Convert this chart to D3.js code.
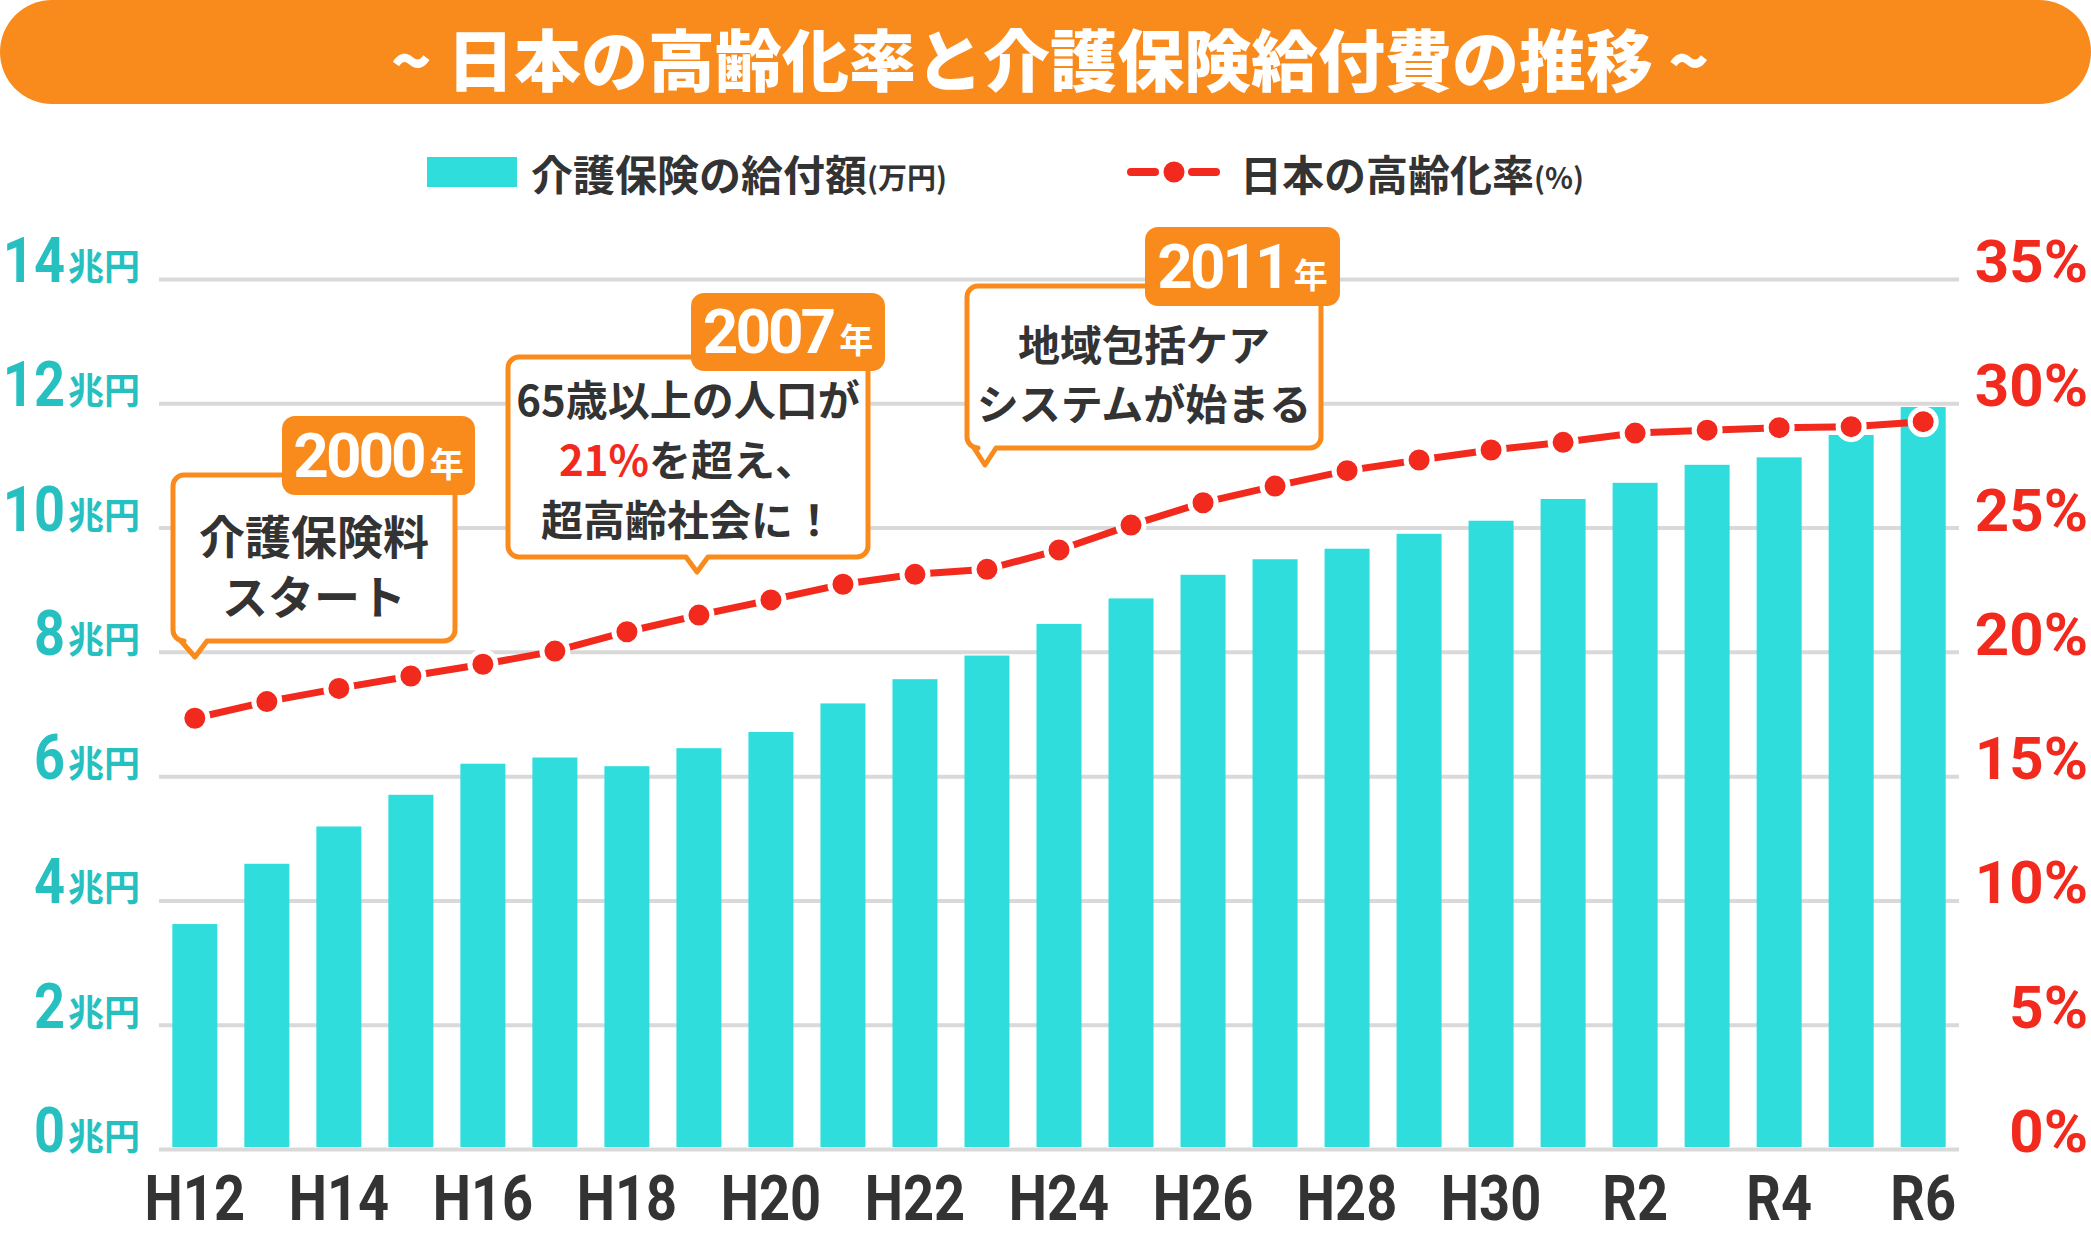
<!DOCTYPE html>
<html><head><meta charset="utf-8">
<script src="https://cdn.jsdelivr.net/npm/d3@7"></script>
<style>
html,body{margin:0;padding:0;background:#fff;}
svg{display:block;}
</style></head>
<body>
<script>
// ---- data ----
const categories = ["H12","H13","H14","H15","H16","H17","H18","H19","H20","H21","H22","H23","H24","H25","H26","H27","H28","H29","H30","R1","R2","R3","R4","R5","R6"];
const benefit = [3.62,4.59,5.19,5.70,6.20,6.30,6.16,6.45,6.71,7.17,7.56,7.94,8.45,8.86,9.24,9.49,9.66,9.90,10.11,10.46,10.72,11.01,11.13,11.49,11.94]; // 兆円
const agingRate = [17.33,18.0,18.53,19.03,19.5,20.03,20.81,21.48,22.09,22.72,23.12,23.32,24.1,25.1,26.0,26.67,27.29,27.72,28.12,28.43,28.8,28.92,29.02,29.06,29.26]; // %
const xTickLabels = ["H12","H14","H16","H18","H20","H22","H24","H26","H28","H30","R2","R4","R6"];
const leftTicks = [0,2,4,6,8,10,12,14];
const rightTicks = [0,5,10,15,20,25,30,35];
const titleText = "~ 日本の高齢化率と介護保険給付費の推移 ~";
const legendBar = ["介護保険の給付額","(万円)"];
const legendLine = ["日本の高齢化率","(%)"];
const notes = [
  {cat:"H12", tagNum:"2000", lines:[["介護保険料"],["スタート"]]},
  {cat:"H19", tagNum:"2007", lines:[["65歳以上の人口が"],["21%","を超え、"],["超高齢社会に！"]]},
  {cat:"H23", tagNum:"2011", lines:[["地域包括ケア"],["システムが始まる"]]}
];

// ---- styles ----
const W = 2091, H = 1235;
const ORANGE = "#f98b1c", CYAN = "#2fdddd", TEAL = "#26c0c0", RED = "#f22a1e", DARK = "#333333", GRID = "#d9d9d9";
const CJK = "'Noto Sans CJK JP','Noto Sans CJK SC',sans-serif";
const NUM = "Roboto,'Noto Sans',sans-serif";

const svg = d3.select("body").append("svg").attr("width", W).attr("height", H);

// ---- scales ----
const x = d3.scaleBand().domain(categories).range([159, 1959]).paddingInner(0.375).paddingOuter(0.185);
const y = d3.scaleLinear().domain([0, 14]).range([1149, 279]);
const yR = d3.scaleLinear().domain([0, 35]).range([1149, 279]);
const cx = c => x(c) + x.bandwidth() / 2;

// ---- title ----
svg.append("rect").attr("x", 0).attr("y", 0).attr("width", W).attr("height", 104).attr("rx", 52).attr("fill", ORANGE);
svg.append("text").attr("x", 1050).attr("y", 56).attr("text-anchor", "middle").attr("dominant-baseline", "central")
  .attr("font-family", CJK).attr("font-weight", 900).attr("font-size", 67).attr("fill", "#fff").text(titleText);

// ---- legend ----
svg.append("rect").attr("x", 427).attr("y", 157).attr("width", 90).attr("height", 30).attr("fill", CYAN);
const lt1 = svg.append("text").attr("x", 531).attr("y", 172).attr("dominant-baseline", "central")
  .attr("font-family", CJK).attr("font-weight", 700).attr("fill", DARK);
lt1.append("tspan").attr("font-size", 42).text(legendBar[0]);
lt1.append("tspan").attr("font-size", 29).attr("dy", 4).text(legendBar[1]);

svg.append("line").attr("x1", 1131).attr("x2", 1155).attr("y1", 172).attr("y2", 172)
  .attr("stroke", RED).attr("stroke-width", 8).attr("stroke-linecap", "round");
svg.append("line").attr("x1", 1192).attr("x2", 1216).attr("y1", 172).attr("y2", 172)
  .attr("stroke", RED).attr("stroke-width", 8).attr("stroke-linecap", "round");
svg.append("circle").attr("cx", 1174).attr("cy", 172).attr("r", 10.5).attr("fill", RED);
const lt2 = svg.append("text").attr("x", 1240).attr("y", 172).attr("dominant-baseline", "central")
  .attr("font-family", CJK).attr("font-weight", 700).attr("fill", DARK);
lt2.append("tspan").attr("font-size", 42).text(legendLine[0]);
lt2.append("tspan").attr("font-size", 29).attr("dy", 4).text(legendLine[1]);

// ---- gridlines via axis ----
const grid = svg.append("g").attr("transform", "translate(159,0)")
  .call(d3.axisLeft(y).tickValues(leftTicks).tickSize(-1800).tickFormat(""));
grid.select(".domain").remove();
grid.selectAll(".tick line").attr("stroke", GRID).attr("stroke-width", 4);

// ---- left tick labels ----
leftTicks.forEach(v => {
  svg.append("text").attr("transform", `translate(65,${y(v) + 3}) scale(0.86,1)`).attr("text-anchor", "end")
    .attr("font-family", NUM).attr("font-weight", 700).attr("font-size", 63).attr("fill", TEAL).text(v);
  svg.append("text").attr("x", 68).attr("y", y(v) + 1).attr("font-family", CJK).attr("font-weight", 700)
    .attr("font-size", 36).attr("fill", TEAL).text("兆円");
});
// ---- right tick labels ----
rightTicks.forEach(v => {
  svg.append("text").attr("transform", `translate(2088,${yR(v) + 3})`).attr("text-anchor", "end")
    .attr("font-family", NUM).attr("font-weight", 700).attr("font-size", 60).attr("fill", RED).text(v + "%");
});

// ---- bars ----
svg.append("g").selectAll("rect").data(categories).join("rect")
  .attr("x", d => x(d)).attr("width", x.bandwidth())
  .attr("y", (d, i) => y(benefit[i])).attr("height", (d, i) => y(0) - y(benefit[i]) - 2)
  .attr("fill", CYAN);

// ---- x labels ----
xTickLabels.forEach(lab => {
  svg.append("text").attr("transform", `translate(${cx(lab)},1220) scale(0.86,1)`).attr("text-anchor", "middle")
    .attr("font-family", NUM).attr("font-weight", 700).attr("font-size", 63).attr("fill", DARK).text(lab);
});

// ---- line ----
const line = d3.line().x((d, i) => cx(categories[i])).y(d => yR(d));
svg.append("path").datum(agingRate).attr("d", line).attr("fill", "none").attr("stroke", RED).attr("stroke-width", 7);
svg.append("g").selectAll("circle").data(agingRate).join("circle")
  .attr("cx", (d, i) => cx(categories[i])).attr("cy", d => yR(d)).attr("r", 13)
  .attr("fill", RED).attr("stroke", "#fff").attr("stroke-width", 5);

// ---- annotations ----
const boxGeom = [
  {x0:173, x1:455, y0:475, y1:641, tip:[195,657], tb:[181,207], tag:[282,475,416,495], fs:46, lineY:[534,594], cxText:314},
  {x0:508, x1:868, y0:357, y1:557, tip:[697,572], tb:[686,708], tag:[691,885,293,371], fs:42, lineY:[397,457,517], cxText:688},
  {x0:967, x1:1321, y0:286, y1:448, tip:[985,465], tb:[974,996], tag:[1145,1340,227,306], fs:42, lineY:[342,401], cxText:1144}
];
notes.forEach((n, k) => {
  const g = boxGeom[k], r = 11;
  const p = d3.path();
  p.moveTo(g.x0 + r, g.y0);
  p.lineTo(g.x1 - r, g.y0); p.arcTo(g.x1, g.y0, g.x1, g.y0 + r, r);
  p.lineTo(g.x1, g.y1 - r); p.arcTo(g.x1, g.y1, g.x1 - r, g.y1, r);
  p.lineTo(g.tb[1], g.y1); p.lineTo(g.tip[0], g.tip[1]); p.lineTo(g.tb[0], g.y1);
  p.lineTo(g.x0 + r, g.y1); p.arcTo(g.x0, g.y1, g.x0, g.y1 - r, r);
  p.lineTo(g.x0, g.y0 + r); p.arcTo(g.x0, g.y0, g.x0 + r, g.y0, r);
  p.closePath();
  svg.append("path").attr("d", p.toString()).attr("fill", "#fff").attr("stroke", ORANGE).attr("stroke-width", 5).attr("stroke-linejoin", "round");
  // tag
  const [tx0, tx1, ty0, ty1] = g.tag;
  svg.append("rect").attr("x", tx0).attr("y", ty0).attr("width", tx1 - tx0).attr("height", ty1 - ty0).attr("rx", 13).attr("fill", ORANGE);
  const tagT = svg.append("text").attr("transform", `translate(${(tx0 + tx1) / 2},${ty1 - 18})`).attr("text-anchor", "middle").attr("fill", "#fff");
  tagT.append("tspan").attr("font-family", NUM).attr("font-weight", 700).attr("font-size", 62).attr("letter-spacing", -3).text(n.tagNum);
  tagT.append("tspan").attr("font-family", CJK).attr("font-weight", 700).attr("font-size", 34).attr("dx", 6).text("年");
  // lines
  n.lines.forEach((parts, li) => {
    const t = svg.append("text").attr("x", g.cxText).attr("y", g.lineY[li]).attr("text-anchor", "middle").attr("dominant-baseline", "central")
      .attr("font-family", CJK).attr("font-weight", 700).attr("font-size", g.fs).attr("fill", DARK);
    parts.forEach(s => {
      const isRed = s === "21%";
      t.append("tspan").attr("fill", isRed ? RED : DARK).text(s);
    });
  });
});
</script>
</body></html>
